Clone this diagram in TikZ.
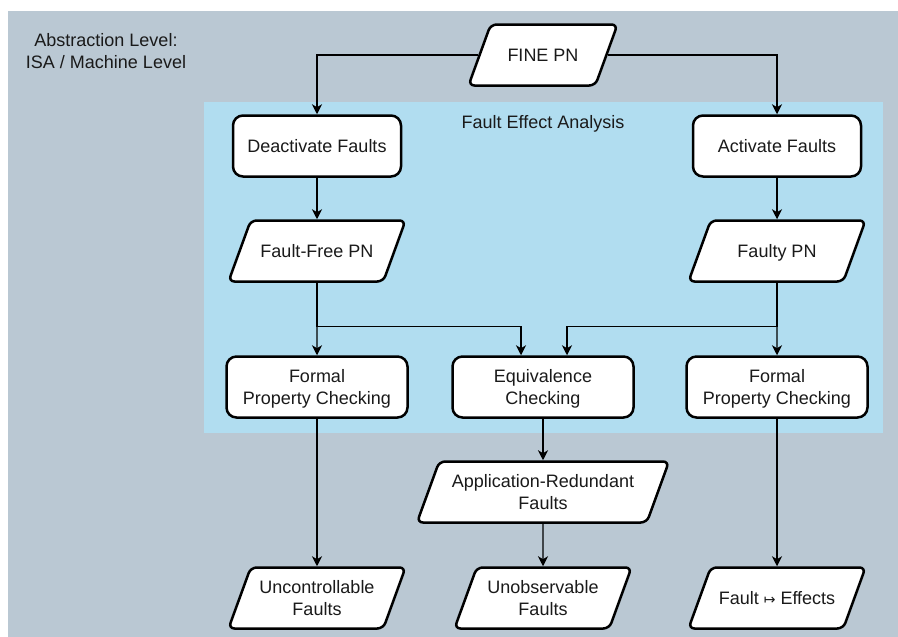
\documentclass[tikz,border=0pt]{standalone}
\usepackage{fontspec}
\setmainfont{Liberation Sans}
\newfontfamily\arrowsym{DejaVu Sans}
\usepackage{tikz}
\usetikzlibrary{shapes.geometric, arrows.meta}
\definecolor{levelgray}{HTML}{BAC8D3}
\definecolor{feablue}{HTML}{B1DDF0}
\definecolor{inkcol}{HTML}{1A1A1A}
\tikzstyle{procnode} =
[rectangle, rounded corners=10pt, minimum width=168pt, minimum height=61pt,
text height=15pt, text depth=2pt, text centered, line width=2.5pt,
draw=black, fill=white, text=inkcol]
\tikzstyle{checknode} =
[procnode, minimum width=181pt, text height=37pt, align=center]
\tikzstyle{datanode} =
[trapezium, trapezium left angle=70, trapezium right angle=110,
trapezium stretches body, rounded corners=6pt, minimum width=177pt,
text height=15pt, text depth=2pt, inner ysep=22pt, align=center,
line width=2.5pt, draw=black, fill=white, text=inkcol]
\tikzstyle{datatwo} = [datanode, text height=37pt, inner ysep=11pt]
\tikzstyle{caption} = [align=center, text=inkcol]
\tikzstyle{line} = [draw, line width=1.3pt,
-{Stealth[length=10pt, width=10pt, inset=3pt]}]

\begin{document}
\begin{tikzpicture}[x=1pt, y=1pt, node distance=105pt,
  font=\fontsize{18}{22}\selectfont]
  \useasboundingbox (0,0) rectangle (898,-637);
  % levels
  \fill [levelgray] (8,-11) rectangle (898,-637);
  \fill [feablue] (204,-102) rectangle (883,-433);
  \node [caption] (level) at (106,-51) {Abstraction Level:\\ISA / Machine Level};
  \node [caption] (fea) at (543,-124) {Fault Effect Analysis};
  % 1st level nodes
  \node [datanode, minimum width=149pt] (fine) at (543,-55) {FINE PN};
  \node [procnode] (deact) at (317,-146) {Deactivate Faults};
  \node [procnode, right of=deact, node distance=460pt] (act) {Activate Faults};
  \node [datanode, below of=deact] (ffree) {Fault-Free PN};
  \node [datanode, below of=act] (faulty) {Faulty PN};
  % checking nodes
  \node [checknode, below of=ffree, node distance=136pt] (fpcl)
   {Formal\\Property Checking};
  \node [checknode, below of=faulty, node distance=136pt] (fpcr)
   {Formal\\Property Checking};
  \node [checknode, right of=fpcl, node distance=226pt] (equiv)
   {Equivalence\\Checking};
  % result nodes
  \node [datatwo, minimum width=252pt, below of=equiv] (appred)
   {Application-Redundant\\Faults};
  \node [datatwo, below of=appred, node distance=106pt] (unobs)
   {Unobservable\\Faults};
  \node [datatwo, below of=fpcl, node distance=211pt] (unctrl)
   {Uncontrollable\\Faults};
  \node [datanode, below of=fpcr, node distance=211pt] (effects)
   {Fault {\arrowsym\fontsize{14}{22}\selectfont ↦} Effects};
  % edges
  \path [line] (fine) -| (deact);
  \path [line] (fine) -| (act);
  \path [line] (deact) -- (ffree);
  \path [line] (act) -- (faulty);
  \path [line] (ffree) -- (fpcl);
  \path [line] (faulty) -- (fpcr);
  \path [line] (ffree) |- ([shift={(-22pt,29pt)}]equiv.north)
   -- ([xshift=-22pt]equiv.north);
  \path [line] (faulty) |- ([shift={(24pt,29pt)}]equiv.north)
   -- ([xshift=24pt]equiv.north);
  \path [line] (fpcl) -- (unctrl);
  \path [line] (equiv) -- (appred);
  \path [line] (appred) -- (unobs);
  \path [line] (fpcr) -- (effects);
\end{tikzpicture}
\end{document}
